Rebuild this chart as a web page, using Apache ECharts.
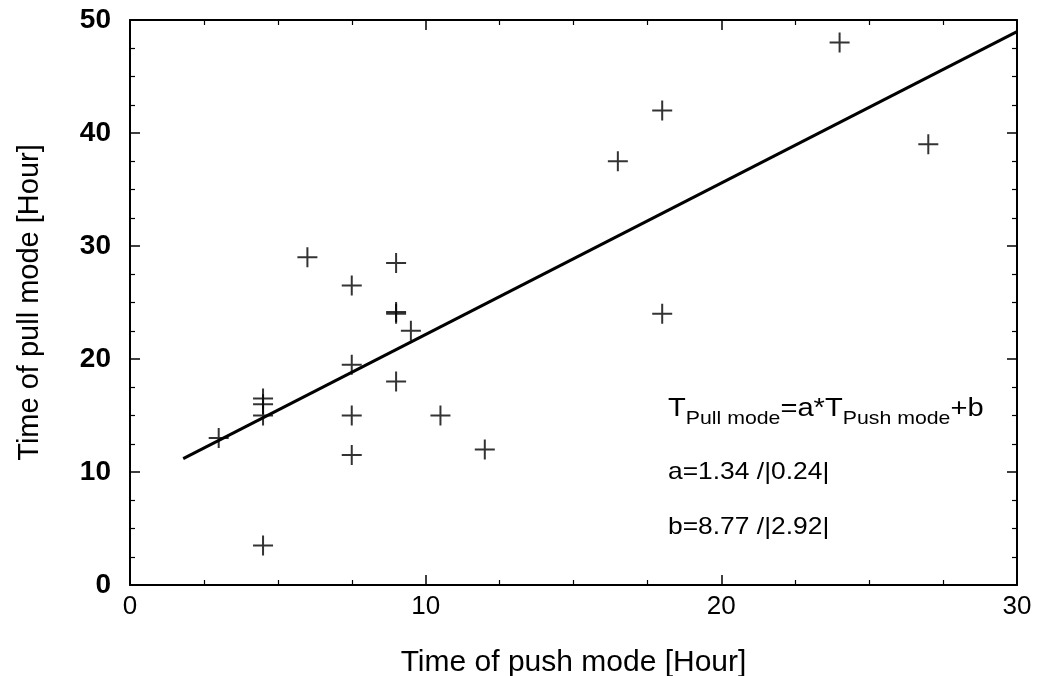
<!DOCTYPE html>
<html><head><meta charset="utf-8">
<script src="https://cdn.jsdelivr.net/npm/echarts@6/dist/echarts.min.js"></script>
<style>html,body{margin:0;padding:0;background:#fff}#c{width:1039px;height:676px}</style>
</head><body><div id="c"></div>
<script>
const pushTimes = [24, 18, 16.5, 27, 18, 6, 9, 7.5, 9, 9, 9.5, 7.5, 9, 10.5, 7.5, 7.5, 4.5, 4.5, 4.5, 3, 4.5, 12];
const pullTimes = [48, 42, 37.5, 39, 24, 29, 28.5, 26.5, 24, 24.15, 22.5, 19.5, 18, 15, 15, 11.5, 16.5, 16, 15, 13, 3.5, 12];
const slopeA = 1.34, interceptB = 8.77;
const fitRange = [1.8, 30];
const xTicks = [0, 10, 20, 30];
const yTicks = [0, 10, 20, 30, 40, 50];

const FONT = '"Liberation Sans", Arial, sans-serif';
const pts = pushTimes.map((x, i) => [x, pullTimes[i]]);
const fit = fitRange.map(x => [x, slopeA * x + interceptB]);
const ax = {
  axisLine: {show: true, onZero: false, lineStyle: {color: '#000', width: 2}},
  axisTick: {show: true, inside: true, length: 10, lineStyle: {color: '#000', width: 1.5}},
  minorTick: {show: true, splitNumber: 4, length: 5, lineStyle: {color: '#000', width: 1.2}},
  splitLine: {show: false}
};
const chart = echarts.init(document.getElementById('c'));
chart.setOption({
  animation: false,
  backgroundColor: '#fff',
  grid: {left: 130, right: 22, top: 20, bottom: 91, containLabel: false, outerBoundsMode: 'none'},
  xAxis: [
    Object.assign({type: 'value', position: 'bottom', min: 0, max: 30, interval: 10,
      name: 'Time of push mode [Hour]', nameLocation: 'middle', nameGap: 63,
      nameTextStyle: {fontFamily: FONT, fontSize: 30, color: '#000'},
      axisLabel: {fontFamily: FONT, fontSize: 26, color: '#000', margin: 9,
        formatter: v => xTicks.includes(v) ? String(v) : ''}}, ax),
    Object.assign({type: 'value', position: 'top', min: 0, max: 30, interval: 10,
      axisLabel: {show: false}}, ax)
  ],
  yAxis: [
    Object.assign({type: 'value', position: 'left', min: 0, max: 50, interval: 10,
      name: 'Time of pull mode [Hour]', nameLocation: 'middle', nameGap: 86,
      nameTextStyle: {fontFamily: FONT, fontSize: 29, color: '#000'},
      axisLabel: {fontFamily: FONT, fontSize: 28, fontWeight: 'bold', color: '#000', margin: 19,
        formatter: v => yTicks.includes(v) ? String(v) : ''}}, ax),
    Object.assign({type: 'value', position: 'right', min: 0, max: 50, interval: 10,
      axisLabel: {show: false}}, ax)
  ],
  series: [
    {type: 'line', data: fit, symbol: 'none', lineStyle: {color: '#000', width: 3}, z: 2},
    {type: 'scatter', data: pts, symbol: 'path://M10,0 L10,20 M0,10 L20,10', symbolSize: 20,
      itemStyle: {color: 'none', borderColor: '#000', borderWidth: 2}, z: 3}
  ],
  graphic: [
    {type: 'text', x: 668, y: 396, scaleX: 1.12, style: {
      text: '{T|T}{s|Pull mode}{T|=a*T}{s|Push mode}{T|+b}',
      rich: {T: {fontFamily: FONT, fontSize: 26, fill: '#000', verticalAlign: 'top'},
             s: {fontFamily: FONT, fontSize: 19, fill: '#000', padding: [13, 0, 0, 0], verticalAlign: 'top'}}}},
    {type: 'text', x: 668, y: 460, scaleX: 1.1, style: {text: 'a=1.34 /|0.24|', fontFamily: FONT, fontSize: 24, fill: '#000'}},
    {type: 'text', x: 668, y: 515, scaleX: 1.1, style: {text: 'b=8.77 /|2.92|', fontFamily: FONT, fontSize: 24, fill: '#000'}}
  ]
});
</script></body></html>
